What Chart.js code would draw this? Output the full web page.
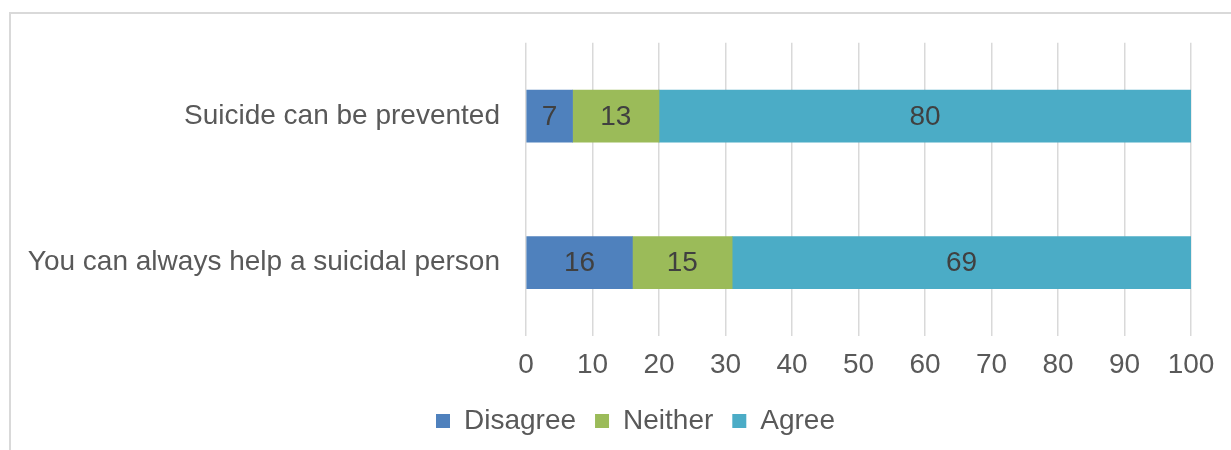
<!DOCTYPE html>
<html>
<head>
<meta charset="utf-8">
<script src="https://cdn.jsdelivr.net/npm/chart.js@4/dist/chart.umd.min.js"></script>
<style>
  html, body { margin: 0; padding: 0; background: #fff; overflow: hidden; }
  #wrap { position: relative; width: 1231px; height: 450px; }
  #frame { position: absolute; left: 9px; top: 12px; width: 1300px; height: 500px; border: 2px solid #d9d9d9; box-sizing: border-box; }
  #chart { position: absolute; left: 0; top: 0; }
</style>
</head>
<body>
<div id="wrap">
  <div id="frame"></div>
  <canvas id="chart" width="1231" height="450"></canvas>
</div>
<script>
// data
const categories = ["Suicide can be prevented", "You can always help a suicidal person"];
const disagree = [7, 16];
const neither = [13, 15];
const agree = [80, 69];
const xTicks = [0, 10, 20, 30, 40, 50, 60, 70, 80, 90, 100];

const FONT = "'Liberation Sans', Arial, sans-serif";

// labels in the middle of each bar piece
const barLabels = {
    id: "barLabels",
    afterDatasetsDraw(chart) {
        const ctx = chart.ctx;
        ctx.save();
        ctx.font = "28px " + FONT;
        ctx.fillStyle = "#404040";
        ctx.textAlign = "center";
        ctx.textBaseline = "middle";
        chart.data.datasets.forEach((ds, i) => {
            chart.getDatasetMeta(i).data.forEach((bar, j) => {
                const p = bar.getProps(["x", "y", "base"], true);
                ctx.fillText(String(ds.data[j]), (p.x + p.base) / 2, p.y + 1);
            });
        });
        ctx.restore();
    }
};

// move legend a bit to the right, like the original
const legendShift = {
    id: "legendShift",
    afterLayout(chart) {
        chart.legend.left += 30;
        chart.legend.right += 30;
    }
};

new Chart(document.getElementById("chart"), {
    type: "bar",
    data: {
        labels: categories,
        datasets: [
            { label: "Disagree", data: disagree, backgroundColor: "#4f81bd" },
            { label: "Neither", data: neither, backgroundColor: "#9bbb59" },
            { label: "Agree", data: agree, backgroundColor: "#4bacc6" }
        ]
    },
    options: {
        indexAxis: "y",
        responsive: false,
        animation: false,
        barThickness: 52,
        layout: { padding: { left: 20, right: 40, top: 42, bottom: 5 } },
        scales: {
            x: {
                stacked: true,
                min: 0,
                max: 100,
                afterBuildTicks: s => { s.ticks = xTicks.map(v => ({ value: v })); },
                afterFit: s => { s.height = 52; },
                border: { display: false },
                grid: { color: "#d9d9d9", lineWidth: 1.5, drawTicks: false },
                ticks: { color: "#595959", font: { family: FONT, size: 28 }, padding: 12 }
            },
            y: {
                stacked: true,
                afterFit: s => { s.width = 526 - 20; },
                border: { display: false },
                grid: { display: false, drawTicks: false },
                ticks: { color: "#595959", font: { family: FONT, size: 28 }, padding: 26 }
            }
        },
        plugins: {
            legend: {
                position: "bottom",
                labels: {
                    color: "#595959",
                    font: { family: FONT, size: 28 },
                    boxWidth: 14,
                    boxHeight: 14,
                    padding: 19
                }
            },
            tooltip: { enabled: false }
        }
    },
    plugins: [barLabels, legendShift]
});
</script>
</body>
</html>
